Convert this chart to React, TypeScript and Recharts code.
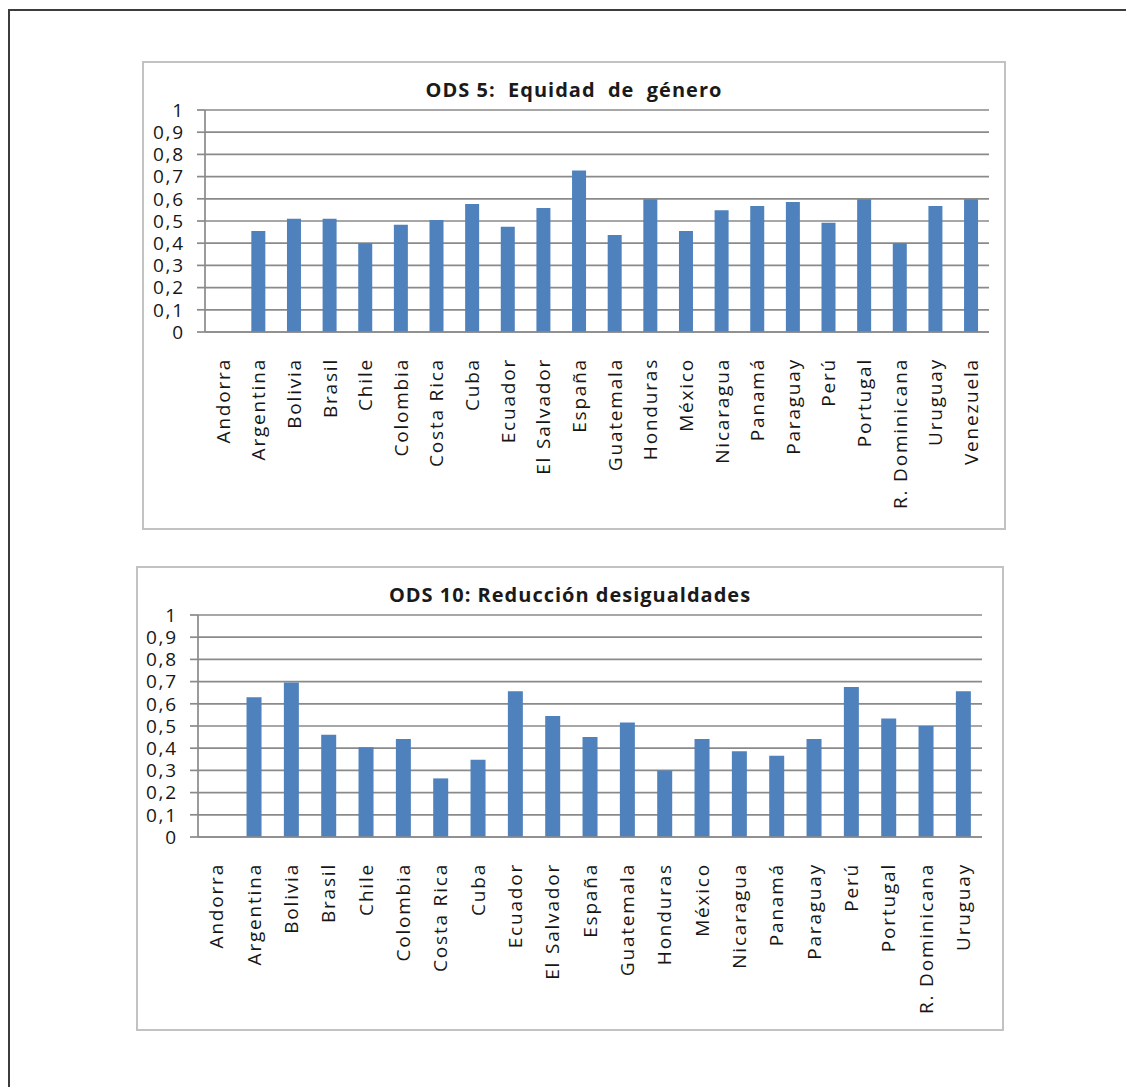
import { Bar, BarChart, CartesianGrid, XAxis, YAxis } from "recharts";

// ODS 5: Equidad de género
const paisesOds5 = [
  "Andorra", "Argentina", "Bolivia", "Brasil", "Chile", "Colombia", "Costa Rica", "Cuba",
  "Ecuador", "El Salvador", "España", "Guatemala", "Honduras", "México", "Nicaragua",
  "Panamá", "Paraguay", "Perú", "Portugal", "R. Dominicana", "Uruguay", "Venezuela",
];
const valoresOds5 = [
  null, 0.455, 0.51, 0.51, 0.4, 0.483, 0.505, 0.577, 0.474, 0.559, 0.727, 0.437,
  0.598, 0.455, 0.548, 0.568, 0.586, 0.492, 0.598, 0.4, 0.568, 0.598,
];

// ODS 10: Reducción desigualdades
const paisesOds10 = [
  "Andorra", "Argentina", "Bolivia", "Brasil", "Chile", "Colombia", "Costa Rica", "Cuba",
  "Ecuador", "El Salvador", "España", "Guatemala", "Honduras", "México", "Nicaragua",
  "Panamá", "Paraguay", "Perú", "Portugal", "R. Dominicana", "Uruguay",
];
const valoresOds10 = [
  null, 0.629, 0.696, 0.461, 0.404, 0.441, 0.264, 0.348, 0.656, 0.545, 0.45, 0.516,
  0.3, 0.441, 0.386, 0.366, 0.441, 0.676, 0.534, 0.5, 0.656,
];

const yTicks = [0, 0.1, 0.2, 0.3, 0.4, 0.5, 0.6, 0.7, 0.8, 0.9, 1];
const yTickLabels = ["0", "0,1", "0,2", "0,3", "0,4", "0,5", "0,6", "0,7", "0,8", "0,9", "1"];

const FONT = "'Open Sans', sans-serif";
const BAR = "#4f81bd";
const GRID = "#8a8a8a";
const TEXT = "#161616";

function CountryTick(props: any) {
  const { x, y, payload } = props;
  return (
    <text
      x={x}
      y={y}
      transform={`rotate(-90, ${x}, ${y})`}
      textAnchor="end"
      dy="0.36em"
      fontFamily={FONT}
      fontSize={19}
      letterSpacing={1.8}
      fill={TEXT}
    >
      {payload.value}
    </text>
  );
}

type Layout = { left: number; top: number; width: number; height: number; yWidth: number; right: number; xHeight: number };

function OdsChart({ title, paises, valores, layout }: { title: string; paises: string[]; valores: (number | null)[]; layout: Layout }) {
  const data = paises.map((pais, i) => ({ pais, valor: valores[i] }));
  const edgeTicks = paises.map((_, i) => i).concat(paises.length);

  return (
    <div style={{ position: "absolute", left: layout.left, top: layout.top, width: layout.width, height: layout.height }}>
      <BarChart
        width={layout.width}
        height={layout.height}
        data={data}
        margin={{ top: 49, right: layout.right, bottom: 0, left: 0 }}
        barCategoryGap="30%"
      >
        <CartesianGrid vertical={false} stroke={GRID} strokeWidth={1.7} />
        <XAxis
          xAxisId="edges"
          type="number"
          domain={[0, paises.length]}
          ticks={edgeTicks}
          tick={false}
          tickSize={9}
          tickLine={{ stroke: GRID, strokeWidth: 1.7 }}
          axisLine={false}
          height={0}
        />
        <XAxis
          dataKey="pais"
          interval={0}
          tickLine={false}
          tickSize={0}
          tickMargin={26}
          axisLine={{ stroke: GRID, strokeWidth: 1.7 }}
          tick={<CountryTick />}
          height={layout.xHeight}
        />
        <YAxis
          domain={[0, 1]}
          ticks={yTicks}
          interval={0}
          width={layout.yWidth}
          tickSize={8}
          tickMargin={12}
          tickLine={{ stroke: GRID, strokeWidth: 1.7 }}
          axisLine={{ stroke: GRID, strokeWidth: 1.7 }}
          tickFormatter={(v: number) => yTickLabels[yTicks.indexOf(v)] ?? String(v)}
          tick={{ fontFamily: FONT, fontSize: 19, letterSpacing: 1.8, fill: TEXT }}
        />
        <Bar dataKey="valor" fill={BAR} isAnimationActive={false} />
      </BarChart>
      <div
        style={{
          position: "absolute",
          top: 19,
          left: 0,
          width: "100%",
          textAlign: "center",
          fontFamily: FONT,
          fontWeight: 700,
          fontSize: 20,
          lineHeight: "20px",
          letterSpacing: 1,
          whiteSpace: "pre",
          color: "#1a1a1a",
        }}
      >
        {title}
      </div>
      <div
        style={{
          position: "absolute",
          inset: 0,
          border: "2px solid #c2c2c2",
          boxSizing: "border-box",
          pointerEvents: "none",
        }}
      />
    </div>
  );
}

export default function App() {
  return (
    <div style={{ position: "fixed", left: 0, top: 0, width: 1126, height: 1087, overflow: "hidden", background: "#fff" }}>
      <div
        style={{
          position: "absolute",
          left: 8,
          top: 9,
          width: 1200,
          height: 1200,
          borderLeft: "2px solid #3c3c3c",
          borderTop: "2px solid #3c3c3c",
        }}
      />
      <OdsChart
        title="ODS 5:  Equidad  de  género"
        paises={paisesOds5}
        valores={valoresOds5}
        layout={{ left: 142, top: 61, width: 864, height: 469, yWidth: 63, right: 17, xHeight: 198 }}
      />
      <OdsChart
        title="ODS 10: Reducción desigualdades"
        paises={paisesOds10}
        valores={valoresOds10}
        layout={{ left: 136, top: 566, width: 868, height: 465, yWidth: 62, right: 22, xHeight: 194 }}
      />
    </div>
  );
}
